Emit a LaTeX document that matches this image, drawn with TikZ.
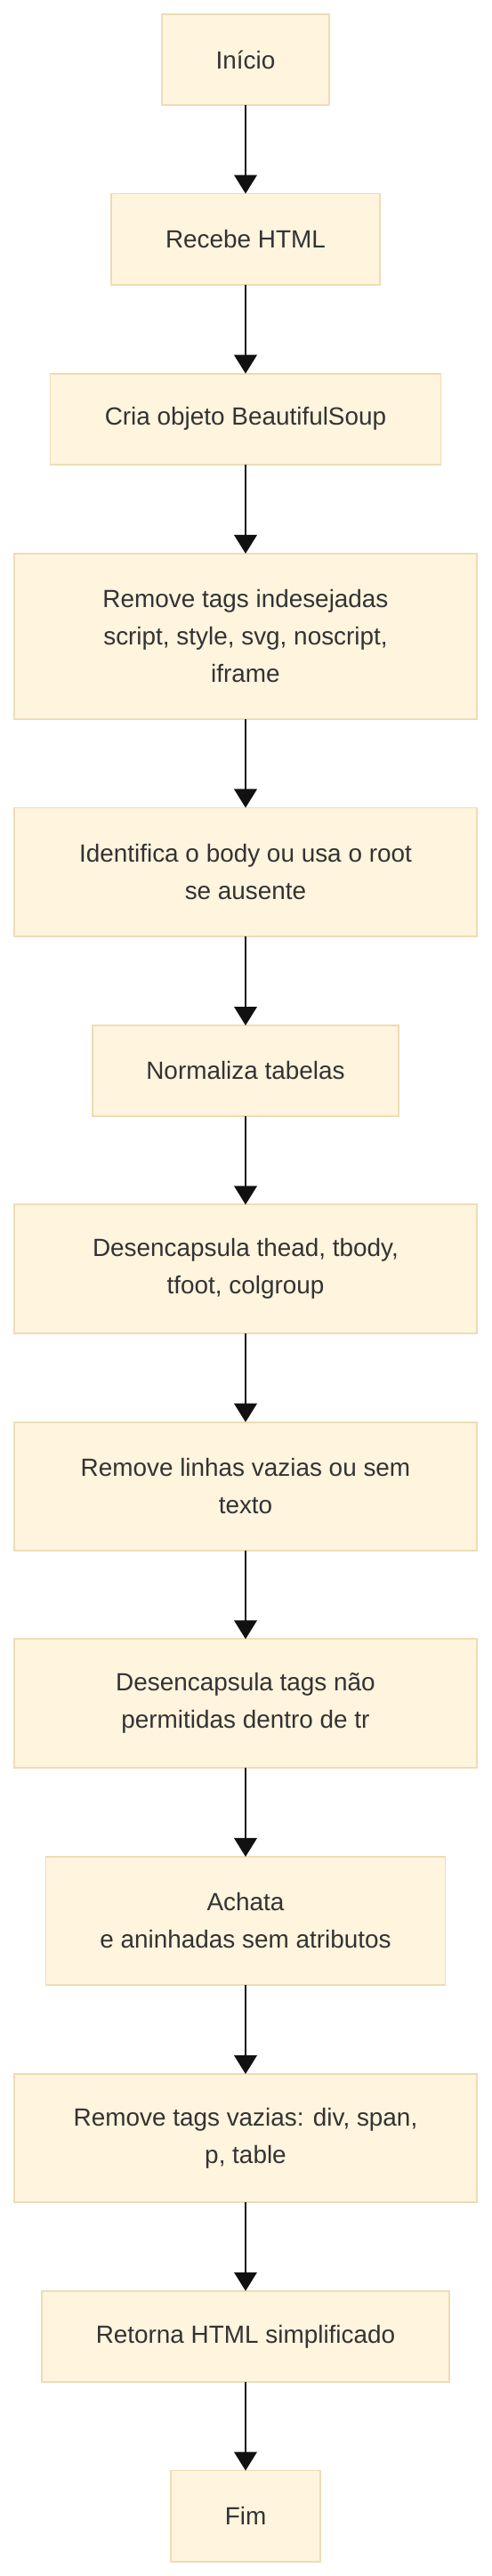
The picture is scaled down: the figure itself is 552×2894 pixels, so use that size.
\documentclass[tikz,border=0pt]{standalone}
\usepackage{fontspec}
\setmainfont{Liberation Sans}
\usetikzlibrary{arrows.meta}
\definecolor{boxfill}{HTML}{FFF4DE}
\definecolor{boxline}{HTML}{EDDDB5}
\definecolor{txt}{HTML}{333333}
\definecolor{arr}{HTML}{111111}
\begin{document}
\begin{tikzpicture}[x=1pt,y=-1pt,
  stepbox/.style={draw=boxline, fill=boxfill, line width=1.8pt, rectangle,
    inner sep=0pt, outer sep=0pt, align=center, text=txt,
    font=\fontsize{27.9}{42}\selectfont},
  flow/.style={draw=arr, line width=2pt, -{Triangle[width=25.6pt,length=21pt]}, arr}
]
\useasboundingbox (0,0) rectangle (552,2894);
\fill[white] (0,0) rectangle (552,2894);

\node[stepbox, minimum width=188pt, minimum height=102pt] (n1) at (276,66.9) {Início};
\node[stepbox, minimum width=302pt, minimum height=102.5pt] (n2) at (276,268.8) {Recebe HTML};
\node[stepbox, minimum width=439pt, minimum height=102pt] (n3) at (276,470.7) {Cria objeto BeautifulSoup};
\node[stepbox, minimum width=520.5pt, minimum height=186pt] (n4) at (276,714.9) {Remove tags indesejadas\\script, style, svg, noscript,\\iframe};
\node[stepbox, minimum width=520.5pt, minimum height=144.5pt] (n5) at (276,979.7) {Identifica o body ou usa o root\\se ausente};
\node[stepbox, minimum width=344.5pt, minimum height=102pt] (n6) at (276,1203) {Normaliza tabelas};
\node[stepbox, minimum width=520.5pt, minimum height=144.5pt] (n7) at (276,1425.6) {Desencapsula thead, tbody,\\tfoot, colgroup};
\node[stepbox, minimum width=520.5pt, minimum height=144.5pt] (n8) at (276,1669.9) {Remove linhas vazias ou sem\\texto};
\node[stepbox, minimum width=520.5pt, minimum height=144.5pt] (n9) at (276,1913.6) {Desencapsula tags não\\permitidas dentro de tr};
\node[stepbox, minimum width=449pt, minimum height=144pt] (n10) at (276,2157.9) {Achata\\e aninhadas sem atributos};
\node[stepbox, minimum width=520.5pt, minimum height=144pt] (n11) at (276,2402) {Remove tags vazias: div, span,\\p, table};
\node[stepbox, minimum width=458.5pt, minimum height=102.3pt] (n12) at (276,2624.9) {Retorna HTML simplificado};
\node[stepbox, minimum width=167.5pt, minimum height=102.3pt] (n13) at (276,2826.7) {Fim};

\foreach \a/\b in {n1/n2,n2/n3,n3/n4,n4/n5,n5/n6,n6/n7,n7/n8,n8/n9,n9/n10,n10/n11,n11/n12,n12/n13}
  \draw[flow] (\a.south) -- (\b.north);
\end{tikzpicture}
\end{document}
